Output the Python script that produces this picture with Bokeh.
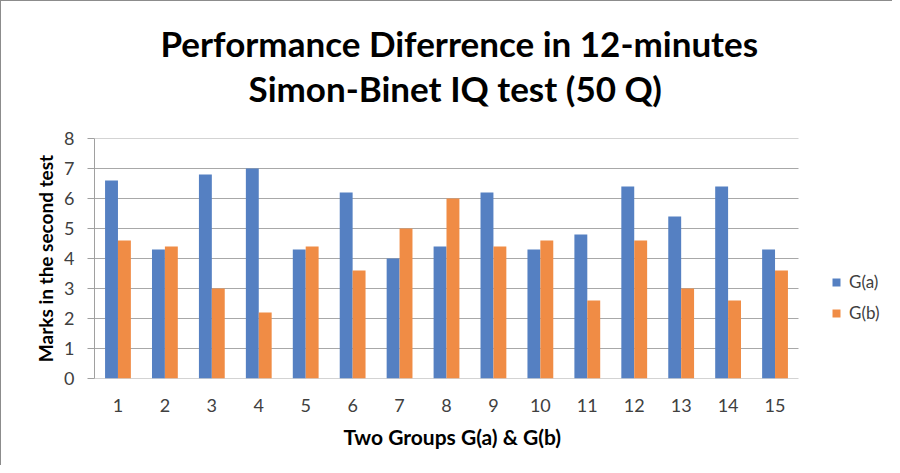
from bokeh.plotting import figure
from bokeh.models import Range1d, FixedTicker, Legend, LegendItem, ColumnDataSource, Title
from bokeh.embed import file_html
from bokeh.resources import INLINE

title_lines = ["Performance Diferrence in 12-minutes", "Simon-Binet IQ test (50 Q)"]
x_title = "Two Groups G(a) & G(b)"
y_title = "Marks in the second test"
groups = ["1", "2", "3", "4", "5", "6", "7", "8", "9", "10", "11", "12", "13", "14", "15"]
g_a = [6.6, 4.3, 6.8, 7.0, 4.3, 6.2, 4.0, 4.4, 6.2, 4.3, 4.8, 6.4, 5.4, 6.4, 4.3]
g_b = [4.6, 4.4, 3.0, 2.2, 4.4, 3.6, 5.0, 6.0, 4.4, 4.6, 2.6, 4.6, 3.0, 2.6, 3.6]
y_ticks = [0, 1, 2, 3, 4, 5, 6, 7, 8]

FONT = "Lato"
W, H = 892, 465
LEFT, TOP, BOTTOM = 93, 137, 88
PLOT_W = 704  # width of the bar area in px
n = len(groups)
xs = list(range(1, n + 1))
bw = 0.275
x_end = n + 0.5 + (W - LEFT - PLOT_W) * n / PLOT_W  # room on the right for the legend

src = ColumnDataSource(dict(x=xs, a=g_a, b=g_b,
                            xa=[v - bw / 2 for v in xs], xb=[v + bw / 2 for v in xs]))

p = figure(width=W, height=H, output_backend="svg", toolbar_location=None,
           x_range=Range1d(0.5, x_end), y_range=Range1d(min(y_ticks), max(y_ticks)),
           min_border_left=LEFT, min_border_right=0, min_border_top=TOP, min_border_bottom=BOTTOM)
p.title = None

spacer = Title(text=" ", text_font_size="2px", standoff=24)
t2 = Title(text=title_lines[1], align="left", text_font=FONT, text_font_size="35px",
           text_font_style="bold", text_color="#000000", standoff=3, offset=154)
t1 = Title(text=title_lines[0], align="left", text_font=FONT, text_font_size="35px",
           text_font_style="bold", text_color="#000000", standoff=0, offset=66)
p.add_layout(spacer, "above")
p.add_layout(t2, "above")
p.add_layout(t1, "above")

# gridlines limited to the bar area
p.segment(x0=[0.5] * len(y_ticks), x1=[n + 0.5] * len(y_ticks), y0=y_ticks, y1=y_ticks,
          line_color="#a8a8a8", line_width=1)

ra = p.vbar(x="xa", top="a", width=bw, source=src, fill_color="#5580c2", line_color=None)
rb = p.vbar(x="xb", top="b", width=bw, source=src, fill_color="#f08c45", line_color=None)

# axes
p.xaxis.ticker = FixedTicker(ticks=xs)
p.xaxis.major_label_overrides = {x: g for x, g in zip(xs, groups)}
p.yaxis.ticker = FixedTicker(ticks=y_ticks)
for ax in (p.xaxis[0], p.yaxis[0]):
    ax.major_label_text_font = FONT
    ax.major_label_text_font_size = "18px"
    ax.major_label_text_color = "#404040"
    ax.axis_label_text_font = FONT
    ax.axis_label_text_font_size = "19px"
    ax.axis_label_text_font_style = "bold"
    ax.axis_label_text_color = "#000000"
    ax.minor_tick_line_color = None
    ax.major_tick_in = 0

p.xaxis.axis_line_color = None
p.xaxis.major_tick_out = 0
p.xaxis.major_label_standoff = 20
p.yaxis.axis_label = y_title
p.yaxis.axis_line_color = "#a0a0a0"
p.yaxis.major_tick_out = 7
p.yaxis.major_tick_line_color = "#a0a0a0"
p.yaxis.major_label_standoff = 13
p.yaxis.axis_label_standoff = 4

xt = Title(text=x_title, align="left", text_font=FONT, text_font_size="21px",
           text_font_style="bold", text_color="#000000", standoff=14, offset=249)
p.add_layout(xt, "below")

p.xgrid.grid_line_color = None
p.ygrid.grid_line_color = None
p.outline_line_color = None
p.styles = {"border-top": "1px solid #8c8c8c", "border-left": "1px solid #8c8c8c"}

legend = Legend(items=[LegendItem(label="G(a)", renderers=[ra]),
                       LegendItem(label="G(b)", renderers=[rb])],
                location=(830 - LEFT, 55), padding=0, margin=0, spacing=10,
                glyph_width=10, glyph_height=10, label_standoff=8,
                label_text_font=FONT, label_text_font_size="17px",
                label_text_color="#404040", border_line_color=None,
                background_fill_alpha=0)
p.add_layout(legend, "center")

open("out.html", "w").write(file_html(p, INLINE))
